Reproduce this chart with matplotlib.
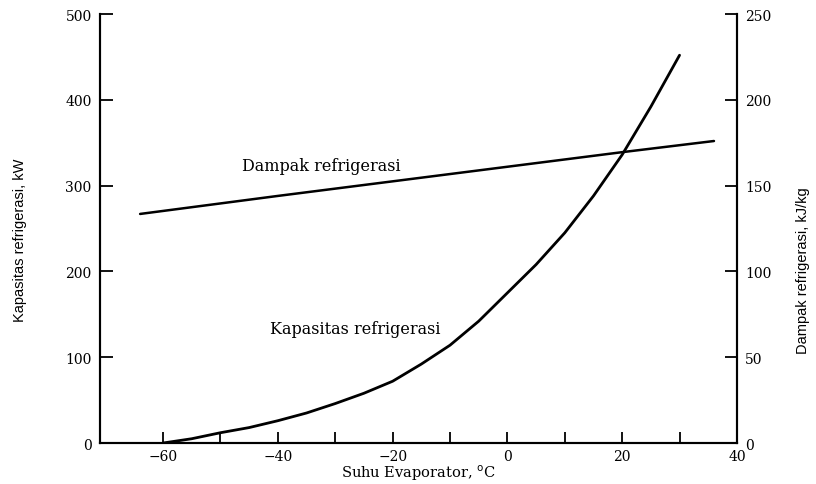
import matplotlib
matplotlib.use("Agg")
import matplotlib.pyplot as plt

# Suhu evaporator (°C) vs kapasitas refrigerasi (kW)
suhu_kap = [-60, -55, -50, -45, -40, -35, -30, -25, -20, -15, -10, -5, 0, 5, 10, 15, 20, 25, 30]
kapasitas = [0, 5, 12, 18, 26, 35, 46, 58, 72, 92, 114, 142, 175, 208, 245, 288, 336, 392, 452]

# Suhu evaporator (°C) vs dampak refrigerasi (kJ/kg)
suhu_dampak = [-64, -40, -20, 0, 20, 36]
dampak = [133.5, 144, 152.5, 161, 169.5, 176]

SERIF = ["DejaVu Serif"]
NARROW = ["Liberation Sans Narrow", "Liberation Sans", "DejaVu Sans"]

plt.rcParams.update({
    "font.family": SERIF,
    "font.size": 10,
    "axes.linewidth": 1.5,
    "xtick.direction": "in", "ytick.direction": "in",
    "xtick.major.size": 8, "ytick.major.size": 9,
    "xtick.major.width": 1.3, "ytick.major.width": 1.3,
})

fig = plt.figure(figsize=(8.16, 4.85), dpi=100)
ax = fig.add_axes([0.1225, 0.0845, 0.7806, 0.8845])
ax2 = ax.twinx()

ax.plot(suhu_kap, kapasitas, color="black", lw=2.0, solid_capstyle="round", solid_joinstyle="round")
ax2.plot(suhu_dampak, dampak, color="black", lw=1.8, solid_capstyle="round")

ax.set_xlim(-71, 40)
ax.set_ylim(0, 500)
ax2.set_ylim(0, 250)

ax.set_xticks(range(-60, 41, 10))
ax.set_xticklabels(["\u221260", "", "\u221240", "", "\u221220", "", "0", "", "20", "", "40"])
ax.set_yticks(range(0, 501, 100))
ax2.set_yticks(range(0, 251, 50))

for a in (ax, ax2):
    a.spines["top"].set_visible(False)
    a.tick_params(labelsize=10, pad=6)
ax.tick_params(axis="x", pad=4)

ax.set_xlabel("Suhu Evaporator, $^{\\mathrm{o}}$C", fontsize=10.5, labelpad=0)
ax.set_ylabel("Kapasitas refrigerasi, kW", family=NARROW, fontsize=10.5)
ax2.set_ylabel("Dampak refrigerasi, kJ/kg", family=NARROW, fontsize=10.5)
ax.yaxis.set_label_coords(-0.115, 0.475)
ax2.yaxis.set_label_coords(1.093, 0.405)

ax.text(-32.5, 323, "Dampak refrigerasi", fontsize=11.5, ha="center", va="center")
ax.text(-26.5, 134, "Kapasitas refrigerasi", fontsize=11.5, ha="center", va="center")

fig.savefig("out.png", dpi=100, facecolor="white")
